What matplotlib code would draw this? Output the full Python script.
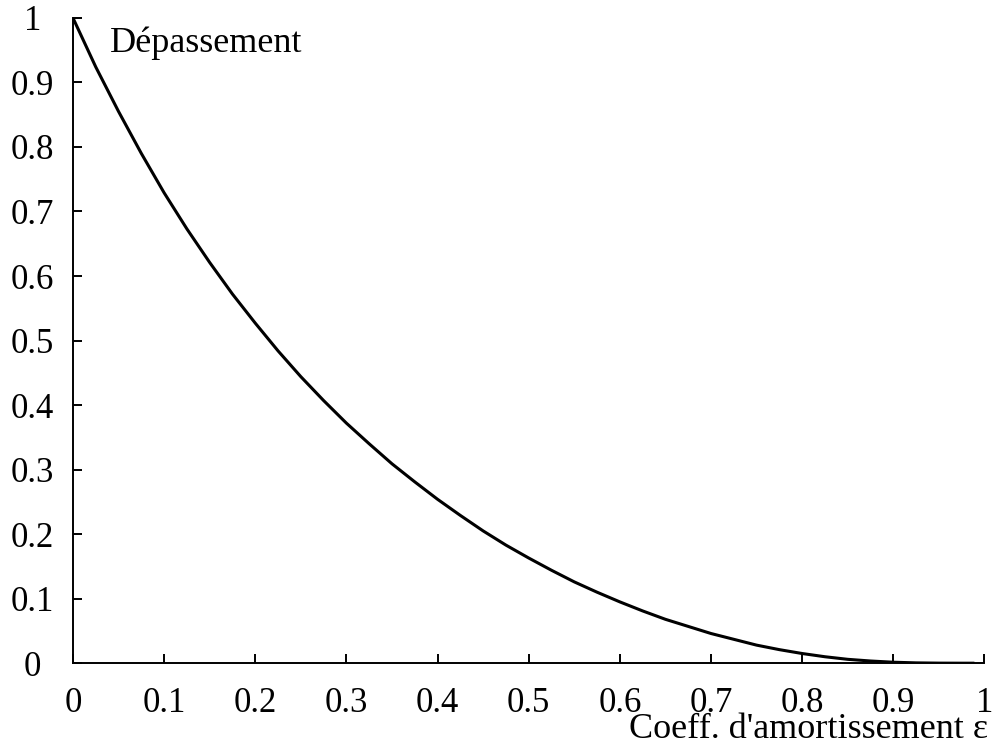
import matplotlib
matplotlib.use("Agg")
import matplotlib.pyplot as plt
from matplotlib.transforms import ScaledTranslation

# Damping coefficient and corresponding overshoot
damping = [0.0, 0.025, 0.05, 0.075, 0.10, 0.125, 0.15, 0.175, 0.20, 0.225, 0.25,
           0.275, 0.30, 0.325, 0.35, 0.375, 0.40, 0.425, 0.45, 0.475, 0.50,
           0.525, 0.55, 0.575, 0.60, 0.625, 0.65, 0.675, 0.70, 0.725, 0.75,
           0.775, 0.80, 0.825, 0.85, 0.875, 0.90, 0.925, 0.95, 0.975, 0.989]
overshoot = [1.0, 0.924, 0.855, 0.790, 0.729, 0.673, 0.621, 0.572, 0.527, 0.484, 0.444,
             0.407, 0.372, 0.340, 0.309, 0.281, 0.254, 0.229, 0.205, 0.183, 0.163,
             0.144, 0.126, 0.110, 0.095, 0.081, 0.068, 0.057, 0.046, 0.037, 0.028,
             0.021, 0.015, 0.010, 0.006, 0.0034, 0.0015, 0.0005, 0.0001, 0.0, 0.0]

x_ticks = [0, 0.1, 0.2, 0.3, 0.4, 0.5, 0.6, 0.7, 0.8, 0.9, 1]
x_tick_labels = ["0", "0.1", "0.2", "0.3", "0.4", "0.5", "0.6", "0.7", "0.8", "0.9", "1"]
y_ticks = x_ticks
y_tick_labels = x_tick_labels

plt.rcParams["font.family"] = ["Liberation Serif", "DejaVu Serif"]

fig = plt.figure(figsize=(9.94, 7.46), dpi=100)
ax = fig.add_axes([0.0734, 0.111, 0.917, 0.865])

ax.plot(damping, overshoot, color="black", lw=2.2, solid_capstyle="butt",
        solid_joinstyle="round")

ax.set_xlim(0, 1)
ax.set_ylim(0, 1)
for s in ("top", "right"):
    ax.spines[s].set_visible(False)
for s in ("left", "bottom"):
    ax.spines[s].set_linewidth(1.4)

ax.set_xticks(x_ticks)
ax.set_xticklabels(x_tick_labels)
ax.set_yticks(y_ticks)
ax.set_yticklabels(y_tick_labels)
ax.tick_params(direction="in", length=6.5, width=1.4, labelsize=25)
ax.tick_params(axis="x", pad=17.5)
ax.tick_params(axis="y", pad=29)
shift_down = ScaledTranslation(0, -4 / 100, fig.dpi_scale_trans)
for lab in ax.get_yticklabels():
    lab.set_horizontalalignment("center")
    lab.set_verticalalignment("center")
    lab.set_transform(lab.get_transform() + shift_down)

ax.text(0.0406, 0.947, "Dépassement", fontsize=26, ha="left", va="baseline")
fig.text(0.994, 1 - 738 / 746, "Coeff. d'amortissement ε", fontsize=26,
         ha="right", va="baseline")

fig.savefig("out.png", dpi=100)
